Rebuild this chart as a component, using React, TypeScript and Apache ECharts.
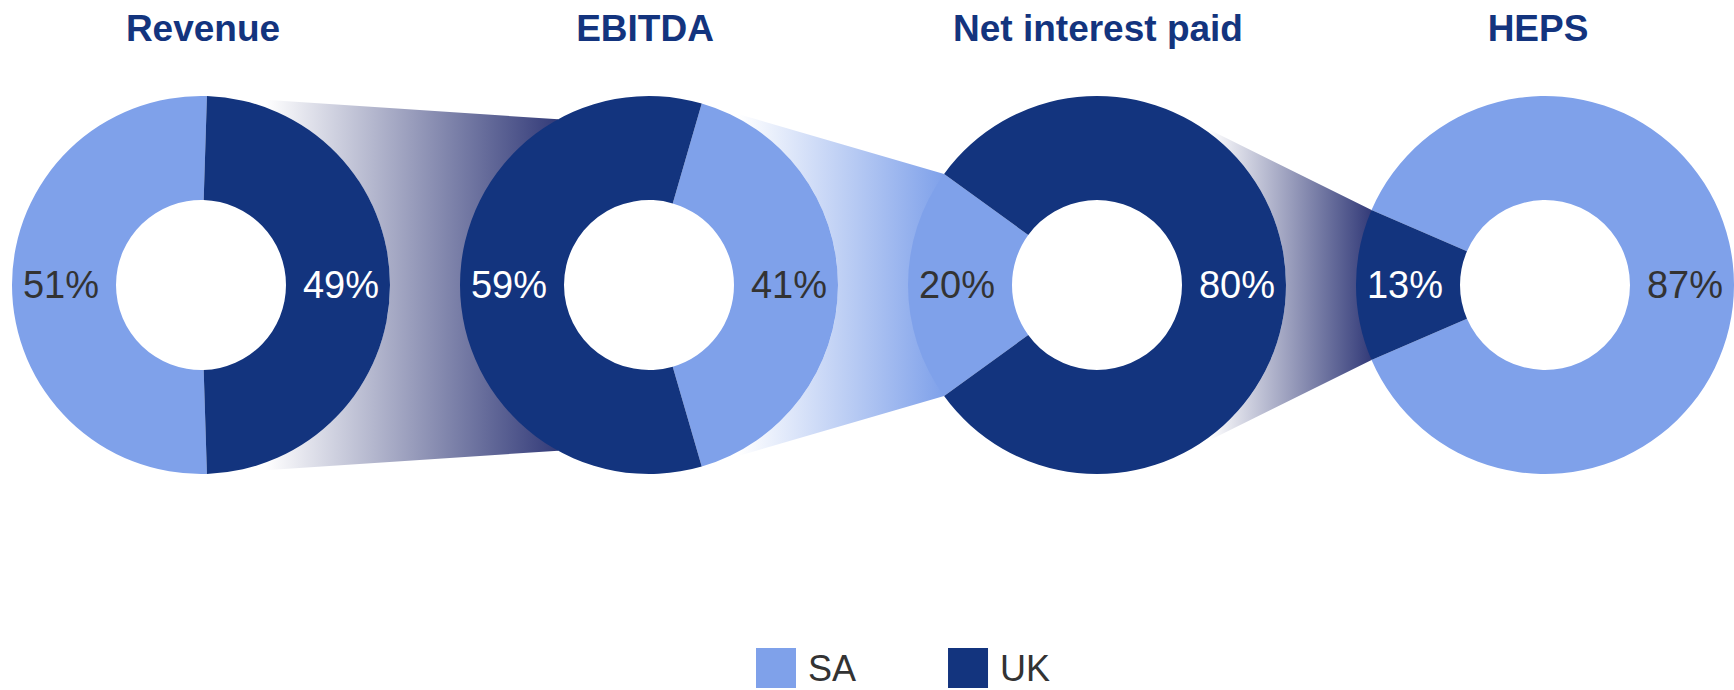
import React, { useEffect, useRef } from "react";
import * as echarts from "echarts";

// ---- data ----
const categories = ["Revenue", "EBITDA", "Net interest paid", "HEPS"];
const saValues = [51, 41, 20, 87];
const ukValues = [49, 59, 80, 13];
const legendLabels = ["SA", "UK"];

// ---- layout / style ----
const W = 1734;
const H = 690;
const CY = 285;
const FIRST_CX = 201;
const STEP = 448;
const R_IN = 85;
const R_OUT = 189;
const titleX = [203, 645, 1098, 1538];
// slice that sits on the right side of each donut (alternates so that links join equal categories)
const rightSide = ["UK", "SA", "UK", "SA"];
const SA_COLOR = "#7fa1ea";
const UK_COLOR = "#13347e";
const LINK_END: Record<string, string> = { SA: "#7fa1ea", UK: "#333b79" };
const TITLE_COLOR = "#13347e";
const TEXT_DARK = "#333333";
const FONT = "Arial, 'Liberation Sans', Helvetica, sans-serif";

const deg = Math.PI / 180;

function pct(cat: string, i: number) {
  return cat === "SA" ? saValues[i] : ukValues[i];
}

function tangentPoint(px: number, py: number, cx: number, cy: number, r: number, upper: boolean) {
  const dx = px - cx;
  const dy = py - cy;
  const d = Math.sqrt(dx * dx + dy * dy);
  const th = Math.atan2(dy, dx);
  const b = Math.acos(r / d);
  const a1 = th - b;
  const a2 = th + b;
  const p1 = [cx + r * Math.cos(a1), cy + r * Math.sin(a1), a1];
  const p2 = [cx + r * Math.cos(a2), cy + r * Math.sin(a2), a2];
  if (upper) return p1[1] < p2[1] ? p1 : p2;
  return p1[1] > p2[1] ? p1 : p2;
}

function buildLinks() {
  const maxHalf = Math.acos(R_IN / R_OUT) / deg - 2;
  const els: any[] = [];
  for (let i = 0; i < categories.length - 1; i++) {
    const cat = rightSide[i];
    const ax = FIRST_CX + STEP * i;
    const bx = FIRST_CX + STEP * (i + 1);
    const half = Math.min(pct(cat, i + 1) * 1.8, maxHalf) * deg;
    const pTop = [bx - R_OUT * Math.cos(half), CY - R_OUT * Math.sin(half)];
    const pBot = [bx - R_OUT * Math.cos(half), CY + R_OUT * Math.sin(half)];
    const tTop = tangentPoint(pTop[0], pTop[1], ax, CY, R_OUT, true);
    const tBot = tangentPoint(pBot[0], pBot[1], ax, CY, R_OUT, false);
    const pts: number[][] = [
      [tTop[0], tTop[1]],
      pTop,
      pBot,
      [tBot[0], tBot[1]],
    ];
    const aStart = tBot[2] as number;
    const aEnd = tTop[2] as number;
    const n = 40;
    for (let k = 1; k < n; k++) {
      const a = aStart + ((aEnd - aStart) * k) / n;
      pts.push([ax + R_OUT * Math.cos(a), CY + R_OUT * Math.sin(a)]);
    }
    const x0 = Math.min(tTop[0] as number, tBot[0] as number);
    const x1 = pTop[0];
    els.push({
      type: "polygon",
      z: -10,
      silent: true,
      shape: { points: pts },
      style: {
        fill: {
          type: "linear",
          x: x0,
          y: 0,
          x2: x1,
          y2: 0,
          global: true,
          colorStops: [
            { offset: 0, color: "#ffffff" },
            { offset: 0.15, color: "#ffffff" },
            { offset: 1, color: LINK_END[cat] },
          ],
        },
      },
    });
  }
  return els;
}

export default function App() {
  const ref = useRef<HTMLDivElement>(null);
  useEffect(() => {
    if (!ref.current) return;
    const chart = echarts.init(ref.current, undefined, { renderer: "svg" });
    const series = categories.map((name, i) => {
      const saCenter = rightSide[i] === "SA" ? 0 : 180;
      const start = saCenter + saValues[i] * 1.8;
      return {
        type: "pie",
        name,
        center: [FIRST_CX + STEP * i, CY],
        radius: [R_IN, R_OUT],
        startAngle: start,
        clockwise: true,
        avoidLabelOverlap: false,
        silent: true,
        z: 2,
        itemStyle: { borderWidth: 0 },
        emphasis: { disabled: true },
        labelLine: { show: false },
        label: {
          show: true,
          position: "inside",
          formatter: "{c}%",
          fontSize: 38,
          fontFamily: FONT,
        },
        data: [
          { name: legendLabels[0], value: saValues[i], label: { color: TEXT_DARK } },
          { name: legendLabels[1], value: ukValues[i], label: { color: "#ffffff" } },
        ],
      };
    });
    chart.setOption({
      animation: false,
      color: [SA_COLOR, UK_COLOR],
      title: categories.map((t, i) => ({
        text: t,
        left: titleX[i],
        top: 10,
        padding: 0,
        textAlign: "center",
        textStyle: { color: TITLE_COLOR, fontSize: 37, fontWeight: "bold", fontFamily: FONT },
      })),
      legend: {
        data: legendLabels,
        left: 756,
        top: 648,
        padding: 0,
        itemWidth: 40,
        itemHeight: 40,
        itemGap: 92,
        icon: "rect",
        selectedMode: false,
        textStyle: { fontSize: 36, color: TEXT_DARK, fontFamily: FONT, padding: [0, 0, 0, 7] },
      },
      graphic: { elements: buildLinks() },
      series,
    });
    return () => chart.dispose();
  }, []);
  return (
    <div
      ref={ref}
      style={{ position: "fixed", left: 0, top: 0, width: W, height: H, background: "#fff" }}
    />
  );
}
